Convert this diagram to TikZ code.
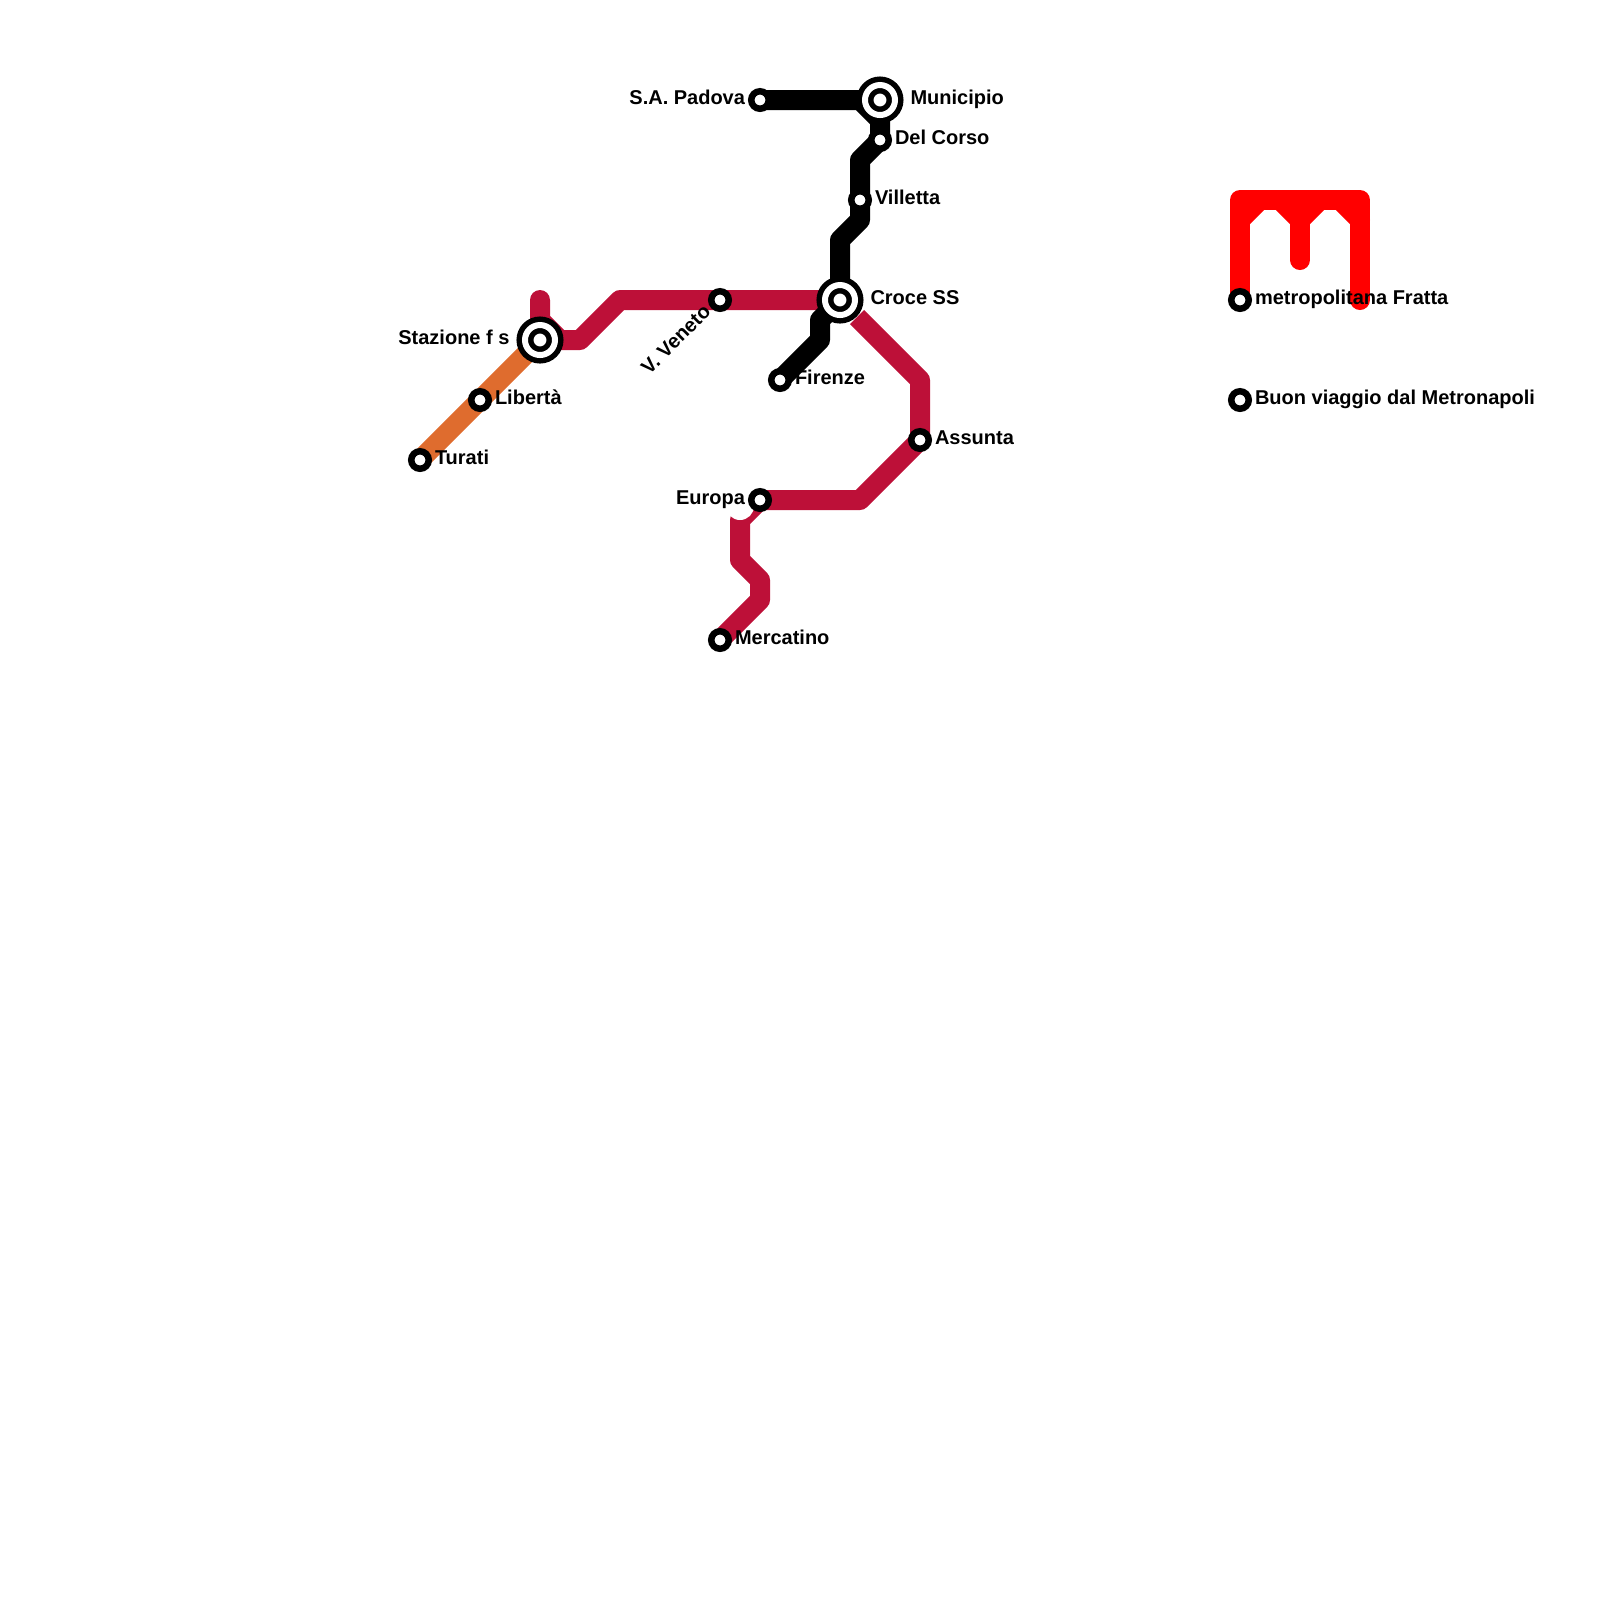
\documentclass[tikz,border=0pt]{standalone}
\usepackage{fontspec}
\setmainfont{Liberation Sans}
\usepackage{tikz}
\usetikzlibrary{positioning,backgrounds}
\definecolor{crimson}{RGB}{189,16,56}
\definecolor{carrot}{RGB}{223,108,46}
\definecolor{logored}{RGB}{255,0,0}
\tikzset{
  stop/.style={circle,draw=black,fill=white,line width=0.065cm,minimum size=0.175cm,inner sep=0pt,outer sep=0pt},
  hub/.style={circle,draw=black,fill=white,double=white,double distance=0.06cm,line width=0.055cm,minimum size=0.3cm,inner sep=0pt,outer sep=0pt},
  tag/.style={font=\fontsize{5.69}{7}\bfseries\selectfont,inner sep=0pt,outer sep=0pt,text height=0.08cm,text depth=0pt},
  route/.style={line width=0.2cm,line join=round,line cap=round}
}

\begin{document}
\begin{tikzpicture}[x=0.2cm,y=-0.2cm]
  \useasboundingbox (0,0) rectangle (80,80);
  \node[hub] (stazione) at (27,17) {};
  \node[stop] (turati) at (21,23) {};
  \node[stop] (liberta) at (24,20) {};
  \node[stop] (veneto) at (36,15) {};
  \node[hub] (croce) at (42,15) {};
  \node[hub] (municipio) at (44,5) {};
  \node[stop] (padova) at (38,5) {};
  \node[stop] (delcorso) at (44,7) {};
  \node[stop] (villetta) at (43,10) {};
  \node[stop] (firenze) at (39,19) {};
  \node[stop] (assunta) at (46,22) {};
  \node[stop] (europa) at (38,25) {};
  \node[stop] (mercatino) at (36,32) {};
  \node[stop] (fratta) at (62,15) {};
  \node[stop] (viaggio) at (62,20) {};
  \coordinate (stub) at (27,15);
  \coordinate (crocegap) at (42.85,15.85);
  \coordinate (logoleft) at (62,15);
  \coordinate (logomid) at (65,13);
  \coordinate (logoright) at (68,15);

  \node[tag,left=0.155cm of stazione] (stazionetag) {Stazione f s};
  \node[tag,right=0.0625cm of turati] (turatitag) {Turati};
  \node[tag,right=0.0625cm of liberta] (libertatag) {Libertà};
  \node[tag,rotate=45,anchor=east] (venetotag) at (35.45,15.5) {V. Veneto};
  \node[tag,right=0.155cm of croce] (crocetag) {Croce SS};
  \node[tag,right=0.155cm of municipio] (municipiotag) {Municipio};
  \node[tag,left=0.0625cm of padova] (padovatag) {S.A. Padova};
  \node[tag,right=0.0625cm of delcorso] (delcorsotag) {Del Corso};
  \node[tag,right=0.0625cm of villetta] (villettatag) {Villetta};
  \node[tag,right=0.0625cm of firenze] (firenzetag) {Firenze};
  \node[tag,right=0.0625cm of assunta] (assuntatag) {Assunta};
  \node[tag,left=0.0625cm of europa] (europatag) {Europa};
  \node[tag,right=0.0625cm of mercatino] (mercatinotag) {Mercatino};
  \node[tag,right=0.0625cm of fratta] (frattatag) {metropolitana Fratta};
  \node[tag,right=0.0625cm of viaggio] (viaggiotag) {Buon viaggio dal Metronapoli};

  \begin{pgfonlayer}{background}
    \draw[route,carrot] (turati.center) -- (liberta.center) -- (stazione.center);
    \draw[route,crimson] (stub) -- (27,16) -- (28,17) -- (29,17) -- (31,15) -- (veneto.center) -- (croce.center);
    \draw[route,crimson,line cap=butt] (crocegap) -- (46,19) -- (assunta.center) -- (43,25) -- (europa.center) -- (37,26) -- (37,28) -- (38,29) -- (38,30) -- (mercatino.center);
    \fill[white] (37,25.3) circle (0.7);
    \draw[route,black,line cap=butt] (padova.center) -- (43,5) -- (44,6) -- (delcorso.center) -- (43,8) -- (villetta.center)
      -- (43,11) -- (42,12) -- (croce.center) -- (41,16) -- (41,17) -- (firenze.center);
    \draw[route,logored] (logoleft) -- (62,10) -- (68,10) -- (logoright);
    \draw[route,logored] (logomid) -- (65,10);
    \draw[route,logored] (62,11) -- (63,10);
    \draw[route,logored] (64,10) -- (65,11) -- (66,10);
    \draw[route,logored] (67,10) -- (68,11);
  \end{pgfonlayer}
\end{tikzpicture}
\end{document}
